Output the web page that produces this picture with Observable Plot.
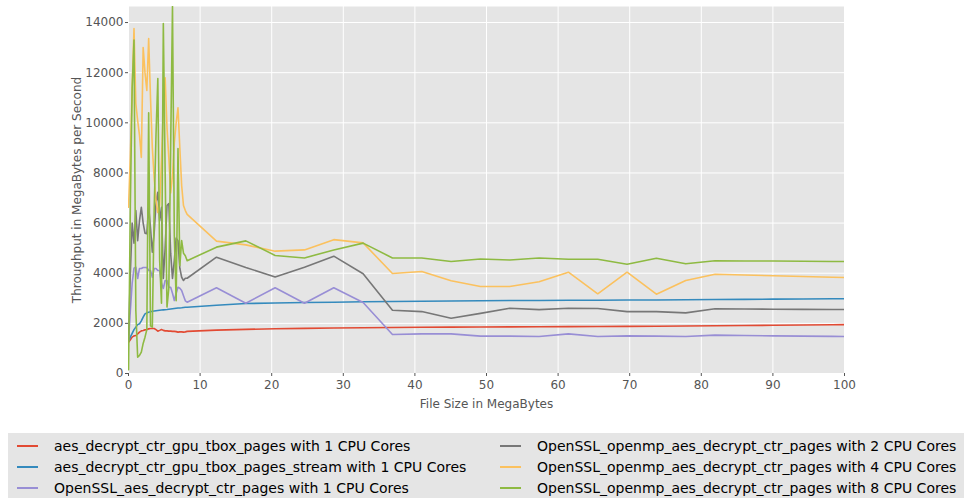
<!DOCTYPE html>
<html>
<head>
<meta charset="utf-8">
<script src="https://cdn.jsdelivr.net/npm/d3@7"></script>
<script src="https://cdn.jsdelivr.net/npm/@observablehq/plot@0.6"></script>
<style>
  html, body { margin: 0; padding: 0; background: #fff; overflow: hidden; }
  body { width: 964px; height: 498px; font-family: "DejaVu Sans", sans-serif; }
  #chart svg { display: block; }
  #legend {
    position: absolute; left: 8px; top: 433px; width: 970px; height: 80px;
    background: #E5E5E5; font-size: 14px; color: #000;
  }
  .item { position: absolute; white-space: nowrap; line-height: 21px; height: 21px; }
  .item .sw { display: inline-block; width: 21px; height: 2px; vertical-align: middle; margin-right: 16px; position: relative; top: -1px; }
</style>
</head>
<body>
<div id="chart"></div>
<div id="legend"></div>
<script>
// File sizes (MB) at which throughput was measured
const fileSizeMB = [
  0.004, 0.256, 0.512, 0.768, 1.024, 1.28, 1.536, 1.792, 2.048, 2.304, 2.56,
  2.816, 3.072, 3.328, 3.584, 3.84, 4.096, 4.352, 4.608, 4.864, 5.12, 5.376,
  5.632, 5.888, 6.144, 6.4, 6.656, 6.912, 7.168, 7.424, 7.68, 7.936, 8.192,
  12.288, 16.384, 20.48, 24.576, 28.672, 32.768, 36.864, 40.96, 45.056, 49.152,
  53.248, 57.344, 61.44, 65.536, 69.632, 73.728, 77.824, 81.92, 86.016, 90.112,
  94.208, 98.304, 102.4
];

// Throughput (MB/s) per implementation
const gpuTbox1 = [
  1250, 1350, 1450, 1500, 1515, 1580, 1650, 1700, 1715, 1740, 1755,
  1780, 1795, 1795, 1795, 1750, 1690, 1720, 1755, 1720, 1700, 1700,
  1690, 1690, 1680, 1680, 1670, 1650, 1660, 1660, 1650, 1660, 1680,
  1730, 1760, 1785, 1800, 1815, 1825, 1835, 1845, 1850, 1855,
  1860, 1865, 1870, 1875, 1880, 1885, 1895, 1905, 1915, 1925,
  1935, 1945, 1955
];
const gpuTboxStream1 = [
  1316, 1450, 1600, 1750, 1850, 1950, 1980, 2100, 2250, 2380, 2420,
  2445, 2460, 2480, 2490, 2500, 2510, 2520, 2530, 2540, 2545, 2550,
  2560, 2570, 2580, 2590, 2600, 2610, 2615, 2620, 2630, 2640, 2645,
  2720, 2790, 2815, 2830, 2845, 2860, 2870, 2880, 2890, 2900,
  2910, 2915, 2920, 2925, 2930, 2935, 2940, 2950, 2958, 2966,
  2974, 2980, 2985
];
const openssl1 = [
  1300, 2500, 3600, 4200, 4240, 3790, 4190, 4190, 4230, 4230, 4230,
  4110, 4110, 3840, 4190, 4190, 4110, 4110, 3600, 3390, 3710, 3710,
  3440, 3440, 3200, 2910, 3200, 3440, 3400, 3310, 3100, 2900, 2845,
  3420, 2805, 3420, 2805, 3420, 2830, 1555, 1580, 1580, 1490,
  1490, 1475, 1580, 1475, 1500, 1490, 1475, 1530, 1515, 1500,
  1490, 1480, 1475
];
const opensslOmp2 = [
  1300, 4000, 6000, 5200, 6500, 5300, 6100, 6630, 6000, 5600, 5580,
  6640, 5800, 4840, 5600, 6800, 7230, 6100, 6630, 3790, 5000, 6700,
  6780, 4800, 3790, 4500, 5400, 5300, 4200, 3840, 3710, 3800, 3800,
  4640, 4230, 3850, 4240, 4680, 3980, 2525, 2470, 2205, 2400,
  2605, 2550, 2605, 2590, 2470, 2470, 2420, 2580, 2570, 2565,
  2560, 2555, 2550
];
const opensslOmp4 = [
  6630, 8700, 11370, 13760, 10770, 10090, 9500, 8620, 13000, 12000, 11290,
  13360, 11000, 9015, 7800, 6900, 6420, 6700, 8500, 10500, 11800, 9800,
  8600, 7200, 7900, 9200, 10000, 10600, 9000, 7500, 6700, 6500, 6350,
  5280, 5130, 4880, 4930, 5340, 5210, 3990, 4070, 3700, 3470,
  3470, 3660, 4040, 3180, 4040, 3165, 3710, 3960, 3930, 3900,
  3870, 3840, 3820
];
const opensslOmp8 = [
  150, 6700, 11400, 13300, 2500, 650, 720, 850, 1200, 1450, 1750,
  10400, 1900, 1850, 6500, 9500, 11770, 4500, 2800, 13960, 8000, 2650,
  3400, 9000, 14640, 5500, 2900, 8970, 4300, 5300, 4800, 4700, 4500,
  5040, 5290, 4710, 4610, 4930, 5200, 4610, 4610, 4470, 4570,
  4530, 4610, 4560, 4560, 4360, 4600, 4375, 4495, 4490, 4485,
  4480, 4470, 4465
];

const seriesNames = [
  "aes_decrypt_ctr_gpu_tbox_pages with 1 CPU Cores",
  "aes_decrypt_ctr_gpu_tbox_pages_stream with 1 CPU Cores",
  "OpenSSL_aes_decrypt_ctr_pages with 1 CPU Cores",
  "OpenSSL_openmp_aes_decrypt_ctr_pages with 2 CPU Cores",
  "OpenSSL_openmp_aes_decrypt_ctr_pages with 4 CPU Cores",
  "OpenSSL_openmp_aes_decrypt_ctr_pages with 8 CPU Cores"
];
const seriesColors = ["#E24A33", "#348ABD", "#988ED5", "#777777", "#FBC15E", "#8EBA42"];
const seriesValues = [gpuTbox1, gpuTboxStream1, openssl1, opensslOmp2, opensslOmp4, opensslOmp8];

const xTicks = [0, 10, 20, 30, 40, 50, 60, 70, 80, 90, 100];
const yTicks = [0, 2000, 4000, 6000, 8000, 10000, 12000, 14000];

const rows = seriesValues.flatMap((vals, i) =>
  vals.map((v, j) => ({ series: seriesNames[i], size: fileSizeMB[j], mbps: v }))
);

const font = "DejaVu Sans, sans-serif";

const chart = Plot.plot({
  width: 964,
  height: 420,
  marginTop: 6,
  marginLeft: 128,
  marginRight: 120,
  marginBottom: 47,
  style: { fontFamily: font, fontSize: "12px", color: "#555555", background: "#fff" },
  x: { domain: [0, 100] },
  y: { domain: [0, d3.max(rows, d => d.mbps)] },
  color: { domain: seriesNames, range: seriesColors },
  marks: [
    Plot.frame({ fill: "#E5E5E5", stroke: null }),
    Plot.gridX(xTicks, { stroke: "#fff", strokeOpacity: 1, strokeWidth: 1 }),
    Plot.gridY(yTicks, { stroke: "#fff", strokeOpacity: 1, strokeWidth: 1 }),
    Plot.axisX(xTicks, {
      tickSize: 3, tickPadding: 4, stroke: "#555", tickFormat: d => String(d),
      label: "File Size in MegaBytes", labelAnchor: "center", labelArrow: "none",
      labelOffset: 34, fontSize: 12
    }),
    Plot.axisY(yTicks, {
      tickSize: 3, tickPadding: 2, stroke: "#555", tickFormat: d => String(d),
      label: "Throughput in MegaBytes per Second", labelAnchor: "center", labelArrow: "none",
      labelOffset: 56, fontSize: 12
    }),
    Plot.line(rows, {
      x: "size", y: "mbps", z: "series", stroke: "series",
      strokeWidth: 1.6, clip: true
    })
  ]
});
document.getElementById("chart").appendChild(chart);

// Legend beneath the chart, two columns of three
const legend = document.getElementById("legend");
seriesNames.forEach((name, i) => {
  const col = Math.floor(i / 3), row = i % 3;
  const item = document.createElement("div");
  item.className = "item";
  item.style.left = (col === 0 ? 9 : 492) + "px";
  item.style.top = (3 + row * 21) + "px";
  const sw = document.createElement("span");
  sw.className = "sw";
  sw.style.backgroundColor = seriesColors[i];
  item.appendChild(sw);
  item.appendChild(document.createTextNode(name));
  legend.appendChild(item);
});
</script>
</body>
</html>
